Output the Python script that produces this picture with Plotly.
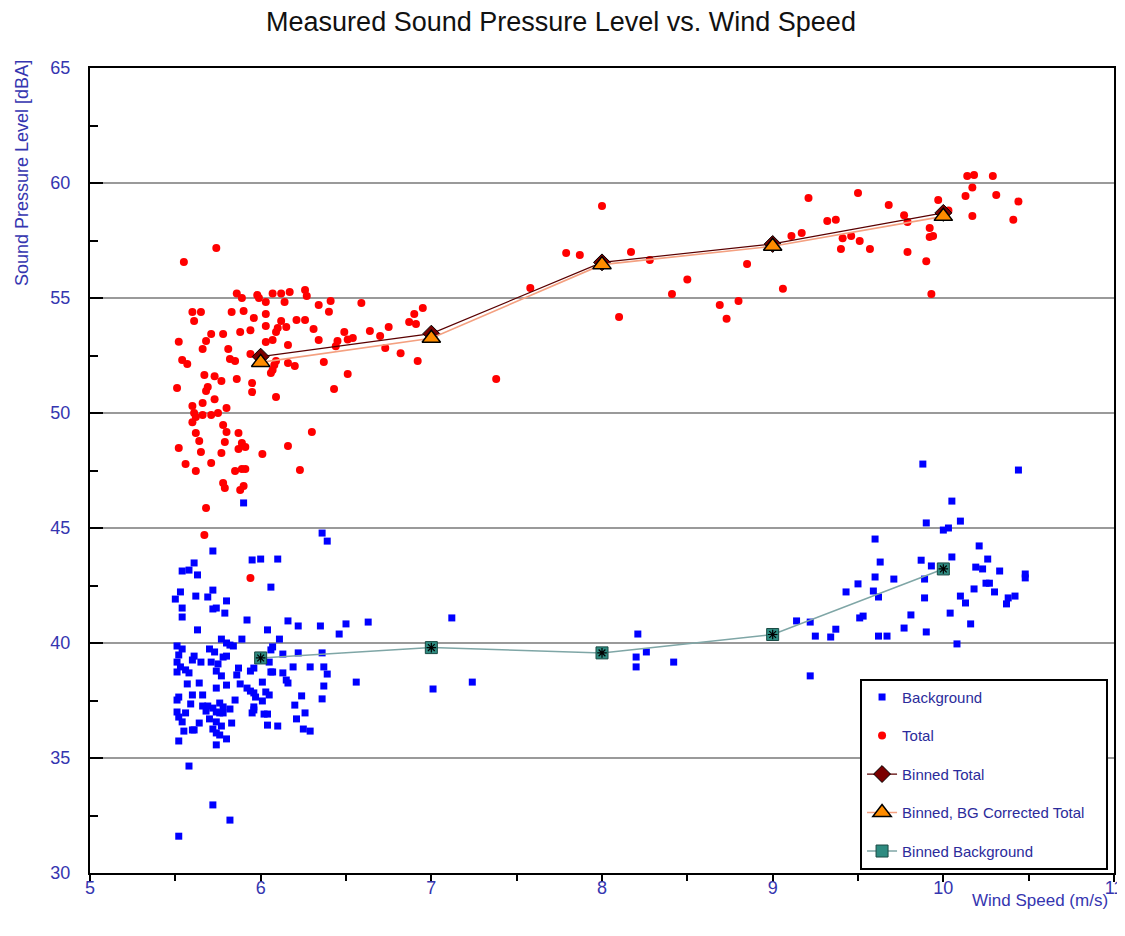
import plotly.graph_objects as go

# ---------------- data ----------------
total_x = [7.58, 7.38, 8.0, 7.79, 7.87, 8.17, 8.28, 8.50, 8.41, 8.10, 8.69, 8.73, 8.80, 8.85, 9.06, 9.11, 9.17,
           9.21, 9.32, 9.37, 9.41, 9.40, 9.46, 9.50, 9.51, 9.57, 9.68, 9.77, 9.79, 9.79, 9.90, 9.92, 9.92, 9.94,
           9.93, 9.97, 10.03, 10.13, 10.14, 10.17, 10.18, 10.17, 10.29, 10.31, 10.41, 10.44,
           6.41, 6.59, 6.40, 6.49, 6.45, 6.44, 6.51, 6.54, 6.64, 6.70, 6.75, 6.73, 6.82, 6.87, 6.90, 6.91, 6.95,
           6.92, 6.51, 6.43,
           5.55, 5.74, 5.60, 5.65, 5.61, 5.52, 5.71, 5.68, 5.66, 5.78, 5.83, 5.81, 5.86, 5.89, 5.90, 5.88, 5.94,
           5.96, 5.98, 5.99, 6.03, 6.03, 6.03, 6.03, 6.07, 6.07, 6.09, 6.10, 6.12, 6.14, 6.12, 6.15, 6.17, 6.16,
           6.21, 6.26, 6.26, 6.27, 6.31, 6.34, 6.34,
           5.54, 5.57, 5.82, 5.85, 5.94, 5.67, 5.73, 5.77, 5.51, 5.69, 5.68, 5.86, 5.95, 5.95, 5.73, 5.60, 5.66,
           5.80, 5.61, 5.62, 5.60, 5.66, 5.71, 5.75, 5.78, 5.80, 5.62, 5.64, 5.87, 5.79, 5.52, 5.65, 5.77, 5.87,
           5.89, 5.91, 6.01, 6.16, 6.30, 5.56, 5.62, 5.71, 5.85, 5.89, 5.91, 6.23, 5.78, 5.79, 5.88, 5.90, 5.68,
           6.09, 6.06, 6.07, 6.08, 6.16, 6.20, 6.37, 6.09, 5.67, 5.94]
total_y = [55.43, 51.48, 59.0, 56.96, 56.87, 57.0, 56.65, 55.8, 55.17, 54.17, 54.7, 54.1, 54.87, 56.48, 55.4,
           57.7, 57.83, 59.35, 58.35, 58.4, 57.6, 57.13, 57.7, 59.56, 57.48, 57.13, 59.04, 58.6, 58.3, 57.0,
           56.6, 58.04, 57.65, 57.7, 55.17, 59.26, 58.8, 59.43, 60.3, 59.8, 60.35, 58.57, 60.3, 59.48, 58.4, 59.2,
           54.87, 54.78, 54.4, 53.52, 53.13, 52.9, 53.2, 53.26, 53.56, 53.35, 53.74, 52.83, 52.6, 53.96, 54.3,
           53.87, 54.57, 52.26, 51.7, 51.04,
           56.57, 57.17, 54.39, 54.39, 54.0, 53.1, 53.43, 53.13, 52.78, 53.43, 54.39, 52.78, 55.2, 55.0, 54.43,
           53.52, 53.6, 54.13, 55.13, 55.0, 54.83, 54.3, 53.78, 53.09, 55.2, 53.17, 53.52, 53.7, 55.2, 54.83,
           54.0, 53.74, 55.26, 52.96, 54.04, 54.04, 55.35, 55.09, 53.65, 53.17, 54.7,
           52.3, 52.13, 52.35, 52.26, 52.57, 51.65, 51.6, 51.39, 51.09, 51.13, 50.96, 51.48, 51.3, 50.91, 50.6,
           50.3, 50.43, 50.22, 50.0, 49.83, 49.6, 49.91, 49.91, 50.0, 49.48, 49.17, 49.13, 48.78, 49.13, 48.74,
           48.48, 48.3, 48.26, 48.43, 48.7, 48.52, 48.22, 48.57, 49.17, 47.78, 47.48, 47.83, 47.48, 47.57, 47.57,
           47.52, 46.96, 46.74, 46.65, 46.83, 45.87,
           50.7, 51.74, 51.87, 52.09, 52.17, 52.04, 52.22, 52.26, 44.7, 42.83]

background_x = [6.36, 6.39, 5.72, 5.95, 6.0, 6.1, 5.61, 5.54, 5.58, 5.63, 6.06, 5.53, 5.72, 5.62, 5.69, 5.50,
                5.80, 5.54, 5.72, 5.74, 5.79, 5.54, 5.92, 6.16, 6.22, 6.35, 6.46, 5.63, 6.04, 5.77, 5.89, 6.11,
                5.8, 5.82, 5.84, 5.51, 5.54, 5.70, 5.73, 6.07, 6.06, 6.13, 6.22, 6.36, 5.52, 5.61, 5.78, 5.80,
                5.60, 5.65, 5.51, 5.53, 5.71, 5.75, 6.05, 6.19, 6.29, 6.37, 5.51, 5.56, 5.58, 5.74, 5.87, 5.94,
                5.96, 6.06, 6.07, 6.39, 5.77, 5.86, 6.13, 6.15, 6.16, 6.01, 5.57, 5.64, 5.80, 5.88, 5.92, 5.94,
                6.37, 5.74, 5.60, 5.66, 5.96, 5.97, 6.03, 6.05, 6.24, 6.36, 5.52, 5.51, 5.85, 5.59, 5.66, 5.69,
                5.72, 5.76, 5.78, 5.82, 6.01, 5.96, 6.2, 5.51, 5.52, 5.54, 5.56, 5.68, 5.74, 5.76, 5.78, 5.95,
                5.96, 6.02, 6.04, 6.26, 5.64, 5.70, 5.74, 5.77, 5.83, 6.04, 6.10, 6.21, 6.25, 6.29, 5.55, 5.6,
                5.61, 5.72, 5.74, 5.76, 5.8, 5.52, 5.74, 5.58, 5.72, 5.82, 5.52, 5.90,
                6.56, 6.50, 6.63, 7.12, 7.01, 7.24,
                8.21, 8.26, 8.20, 8.20, 8.42, 9.22,
                9.14, 9.22, 9.25, 9.34, 9.37, 9.43, 9.50, 9.51, 9.53, 9.59, 9.60, 9.62, 9.62, 9.63, 9.67, 9.71,
                9.77, 9.81, 9.87, 9.89, 9.89, 9.90, 9.93, 10.04, 10.08,
                9.88, 10.44, 10.05, 9.90, 10.0, 10.03, 10.10, 9.60, 10.21, 10.05, 10.26, 10.19, 10.23, 10.33,
                10.48, 10.48, 10.25, 10.27, 10.18, 10.30, 10.10, 10.13, 10.42, 10.38, 10.37, 10.16]
background_y = [44.78, 44.43, 44.0, 43.61, 43.65, 43.65, 43.48, 43.13, 43.17, 42.96, 42.43, 42.22, 42.3, 42.04,
                42.0, 41.91, 41.83, 41.52, 41.48, 41.52, 41.3, 41.13, 41.0, 40.96, 40.74, 40.74, 40.39, 40.57,
                40.57, 40.17, 40.17, 40.17, 40.0, 39.91, 39.87, 39.87, 39.74, 39.74, 39.61, 39.83, 39.7, 39.52,
                39.57, 39.57, 39.48, 39.43, 39.39, 39.43, 39.26, 39.17, 39.17, 38.96, 39.17, 39.09, 39.17, 38.96,
                38.96, 38.96, 38.74, 38.83, 38.7, 38.78, 38.91, 38.78, 38.91, 38.74, 38.74, 38.65, 38.57, 38.61,
                38.7, 38.39, 38.26, 38.3, 38.22, 38.26, 38.17, 38.22, 38.04, 37.91, 38.13, 38.04, 37.74, 37.74,
                37.83, 37.65, 37.87, 37.74, 37.7, 37.57, 37.65, 37.52, 37.52, 37.35, 37.26, 37.26, 37.17, 37.39,
                37.22, 37.13, 37.48, 37.22, 37.3, 37.0, 36.78, 36.57, 36.96, 37.04, 37.0, 36.96, 36.96, 36.96,
                37.09, 36.91, 36.91, 36.96, 36.52, 36.7, 36.57, 36.39, 36.52, 36.43, 36.39, 36.7, 36.26, 36.17,
                36.17, 36.22, 36.22, 36.26, 36.09, 36.0, 35.83, 35.74, 35.57, 34.65, 32.96, 32.3, 31.6, 46.09,
                38.3, 40.83, 40.91, 41.09, 38.0, 38.3,
                40.39, 39.61, 39.39, 38.96, 39.17, 38.57,
                40.96, 40.91, 40.3, 40.26, 40.6, 42.22, 42.57, 41.09, 41.17, 42.26, 42.87, 42.0, 40.3, 43.52, 40.3,
                42.78, 40.65, 41.22, 43.6, 42.78, 41.96, 40.48, 43.35, 41.3, 39.96,
                47.78, 47.52, 46.17, 45.22, 44.91, 45.0, 45.3, 44.52, 44.22, 43.74, 43.65, 43.3, 43.22, 43.13,
                43.0, 42.83, 42.6, 42.6, 42.35, 42.22, 42.04, 41.74, 42.04, 41.96, 41.7, 40.83]

bin_x = [6, 7, 8, 9, 10]
binned_total = [52.45, 53.45, 56.55, 57.35, 58.7]
binned_corrected = [52.2, 53.25, 56.45, 57.25, 58.55]
binned_background = [39.35, 39.8, 39.57, 40.37, 43.22]

x_ticks = [5, 6, 7, 8, 9, 10, 11]
y_ticks = [30, 35, 40, 45, 50, 55, 60, 65]

FONT = "Liberation Sans, Arial, sans-serif"
BLUE_TXT = "#3535b0"
NB = "\u00a0"

fig = go.Figure()

fig.add_trace(go.Scatter(x=background_x, y=background_y, mode="markers", name="Background",
                         legendgroup="g1",
                         marker=dict(symbol="square", size=7, color="#0000ff", line=dict(width=0))))
fig.add_trace(go.Scatter(x=total_x, y=total_y, mode="markers", name="Total",
                         legendgroup="g2",
                         marker=dict(symbol="circle", size=8, color="#ff0000", line=dict(width=0))))
fig.add_trace(go.Scatter(x=bin_x, y=binned_total, mode="lines+markers", name="Binned Total",
                         legendgroup="g3",
                         line=dict(color="#5a0000", width=1.2),
                         marker=dict(symbol="diamond", size=13, color="#7a0000",
                                     line=dict(color="#000000", width=1))))
fig.add_trace(go.Scatter(x=bin_x, y=binned_corrected, mode="lines+markers",
                         name="Binned, BG Corrected Total" + NB * 4,
                         legendgroup="g4",
                         line=dict(color="#f4a080", width=1.6),
                         marker=dict(symbol="triangle-up", size=16, color="#ff8c00",
                                     line=dict(color="#000000", width=1.5))))
fig.add_trace(go.Scatter(x=bin_x, y=binned_background, mode="lines+markers", name="Binned Background",
                         legendgroup="g5",
                         line=dict(color="#7fa6a6", width=1.5),
                         marker=dict(symbol="square", size=12, color="#2e8b80",
                                     line=dict(color="#1a4a44", width=1))))
fig.add_trace(go.Scatter(x=bin_x, y=binned_background, mode="markers", showlegend=False,
                         legendgroup="g5", hoverinfo="skip",
                         marker=dict(symbol="asterisk-open", size=8, color="#000000",
                                     line=dict(color="#000000", width=1.2))))

# the page body adds an 8px offset; the figure is sized/offset to compensate
fig.update_layout(
    template="none",
    width=1117, height=928,
    paper_bgcolor="white", plot_bgcolor="white",
    margin=dict(l=82, r=11, t=60, b=63, autoexpand=False),
    font=dict(family=FONT, color=BLUE_TXT),
    title=dict(text="Measured Sound Pressure Level vs. Wind Speed",
               x=553 / 1117, xanchor="center", y=1 - 14 / 928, yanchor="middle", yref="container",
               font=dict(family=FONT, size=27, color="#111111")),
    showlegend=True,
    legend=dict(x=0.752, y=0.004, xanchor="left", yanchor="bottom",
                bgcolor="white", bordercolor="#000000", borderwidth=2,
                font=dict(family=FONT, size=15, color="#2b2b9b"),
                traceorder="grouped", tracegroupgap=16),
    xaxis=dict(range=[5, 11], tickvals=x_ticks, ticktext=[str(v) for v in x_ticks],
               automargin=False,
               showgrid=False, zeroline=False,
               showline=True, linecolor="#000000", linewidth=2, mirror=True,
               ticks="outside", ticklen=7, tickwidth=2, tickcolor="#000000",
               minor=dict(dtick=0.5, ticks="outside", ticklen=6, tickwidth=2, tickcolor="#000000",
                          showgrid=False),
               ticklabelstandoff=-10,
               tickfont=dict(family=FONT, size=18, color=BLUE_TXT)),
    yaxis=dict(range=[30, 65], tickvals=y_ticks, ticktext=[str(v) for v in y_ticks],
               automargin=False,
               showgrid=True, gridcolor="#9a9a9a", gridwidth=1.5, zeroline=False,
               showline=True, linecolor="#000000", linewidth=2, mirror=True,
               ticks="inside", ticklen=13, tickwidth=2, tickcolor="#000000",
               minor=dict(dtick=2.5, ticks="inside", ticklen=8, tickwidth=2, tickcolor="#000000",
                          showgrid=False),
               ticklabelstandoff=14,
               tickfont=dict(family=FONT, size=18, color=BLUE_TXT)),
    annotations=[
        dict(text="Sound Pressure Level [dBA]", textangle=-90, showarrow=False,
             xref="paper", yref="paper", x=(22 - 90) / 1024, y=(873 - 58) / 805,
             xanchor="center", yanchor="top",
             font=dict(family=FONT, size=18, color=BLUE_TXT)),
        dict(text="Wind Speed (m/s)", showarrow=False,
             xref="paper", yref="paper", x=(1110 - 90) / 1024, y=(873 - 900) / 805,
             xanchor="right", yanchor="middle",
             font=dict(family=FONT, size=17, color=BLUE_TXT)),
    ],
)

fig.write_html("out.html")
